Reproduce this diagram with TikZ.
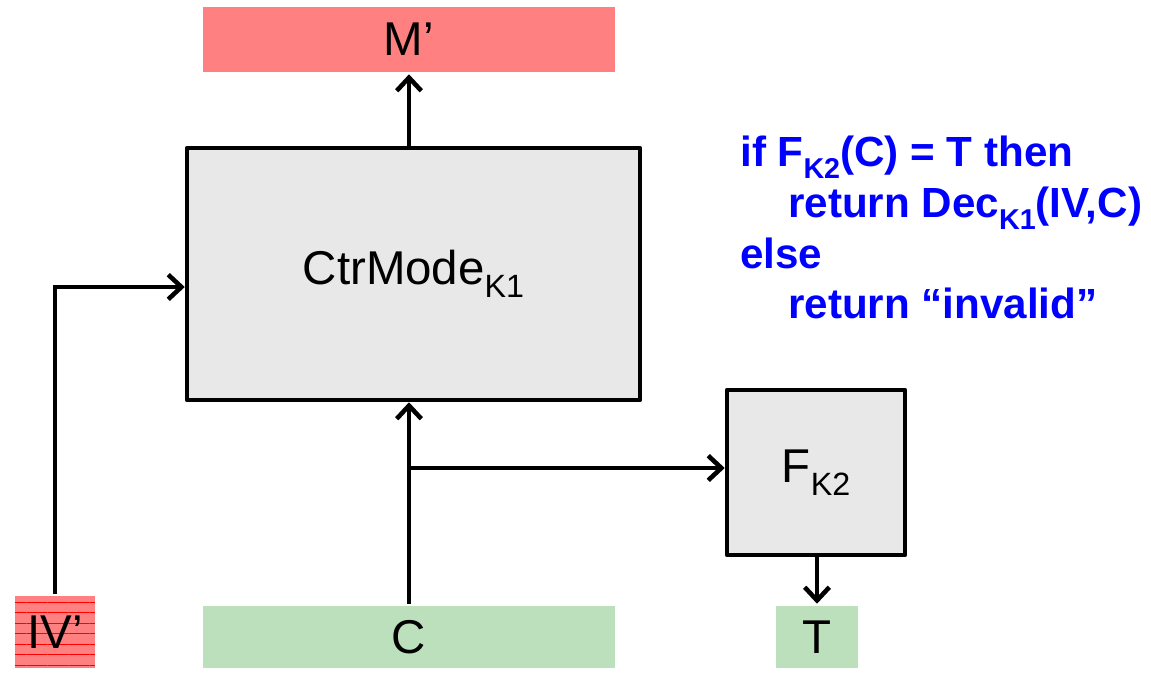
\documentclass[tikz,border=0pt]{standalone}
\usepackage{fontspec}
\setmainfont{Liberation Sans}
\usetikzlibrary{arrows.meta, patterns.meta}

\definecolor{msgred}{RGB}{255,128,128}
\definecolor{ctgreen}{RGB}{188,224,188}
\definecolor{boxgray}{RGB}{232,232,232}
\definecolor{codeblue}{RGB}{0,0,255}
\newcommand{\keysub}[1]{\raisebox{-0.28em}{\scalebox{0.68}{#1}}}

\begin{document}
\begin{tikzpicture}[x=0.02cm, y=-0.02cm, line width=2.6pt,
  >={Straight Barb[length=7.5pt,width=14pt]},
  prim/.style={draw, fill=boxgray, line join=round, font=\fontsize{27}{30}\selectfont},
  plain/.style={fill=msgred, inner sep=0pt, font=\fontsize{27}{30}\selectfont},
  given/.style={fill=ctgreen, inner sep=0pt, font=\fontsize{27}{30}\selectfont}]
\useasboundingbox (0,0) rectangle (1151,676);

% Output message
\node[plain, minimum width=8.24cm, minimum height=1.3cm] (M) at (409,39.5) {M’};

% Primitives
\node[prim, minimum width=9.06cm, minimum height=5.04cm] (Ctr) at (413.5,274) {CtrMode\keysub{K1}};
\node[prim, minimum width=3.56cm, minimum height=3.3cm] (F) at (816,472.5) {F\keysub{K2}};

% Inputs
\node[plain, minimum width=1.6cm, minimum height=1.44cm,
  postaction={pattern={Lines[angle=0,distance=6pt,line width=0.5pt]}, pattern color=red}] (IV) at (55,632) {IV’};
\node[given, minimum width=8.24cm, minimum height=1.24cm] (C) at (409,637) {C};
\node[given, minimum width=1.64cm, minimum height=1.24cm] (T) at (817,637) {T};

% Connectors
\draw[->] (M.south |- Ctr.north) -- (M.south);
\draw[->] (IV.north) |- ([yshift=-0.26cm]Ctr.west);
\draw[->] (C.north) -- (C.north |- Ctr.south);
\coordinate (split) at (C.north |- 0,468);
\draw[->] (split) -- (split -| F.west);
\draw[->] (T.north |- F.south) -- (T.north);

% Verification rule
\node[anchor=north west, align=left, inner sep=0pt, text=codeblue,
  font=\bfseries\fontsize{24}{28.8}\selectfont] (rule) at (738,134)
  {if F\keysub{K2}(C) = T then\\
   \hspace*{0.96cm}return Dec\keysub{K1}(IV,C)\\
   else\\
   \hspace*{0.96cm}return “invalid”};

\end{tikzpicture}
\end{document}
